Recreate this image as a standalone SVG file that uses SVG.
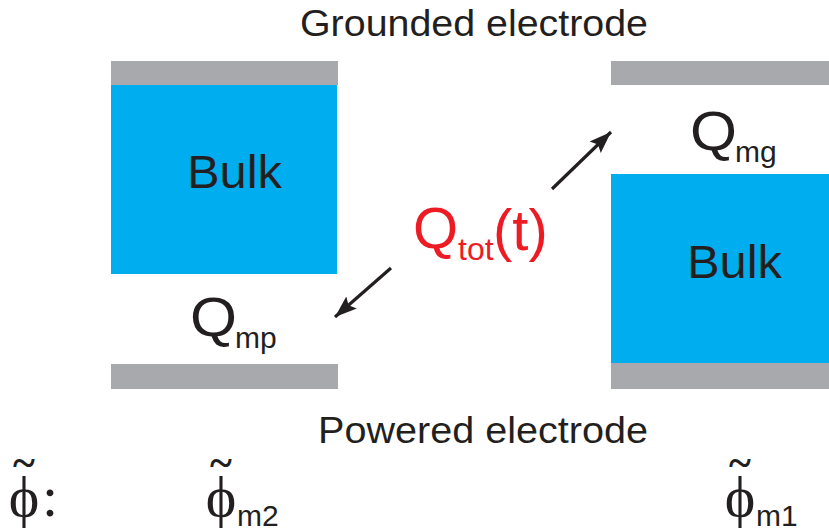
<svg xmlns="http://www.w3.org/2000/svg" width="829" height="529" viewBox="0 0 829 529">
<style>
.t{font-family:"Liberation Sans",Arial,sans-serif;fill:#231f20}
.red{fill:#ed1c24}
.grey{fill:#a7a9ac}
.bulk{fill:#00aeef}
.arr{stroke:#231f20;stroke-width:3.2;fill:none}
.tl{font-family:"Liberation Serif","Times New Roman",serif;fill:#231f20;font-size:42px;font-weight:bold;text-anchor:middle}
.ph{font-family:"Liberation Serif","DejaVu Serif",serif;fill:#231f20;font-size:58px;text-anchor:middle}
</style>
<defs>
<marker id="ah" markerUnits="userSpaceOnUse" markerWidth="24" markerHeight="18" refX="22" refY="9" orient="auto">
<path d="M0,1 L22,9 L0,17 L4,9 z" fill="#231f20"/>
</marker>
</defs>
<rect width="829" height="529" fill="#fff"/>
<text class="t" x="300" y="36" font-size="37" textLength="348" lengthAdjust="spacingAndGlyphs">Grounded electrode</text>
<text class="t" x="318" y="443" font-size="37" textLength="330" lengthAdjust="spacingAndGlyphs">Powered electrode</text>
<g id="left-cell">
<rect class="grey" x="111" y="61" width="227" height="24"/>
<rect class="bulk" x="111" y="85" width="226" height="189"/>
<rect class="grey" x="111" y="364" width="227" height="25"/>
<text class="t" x="187" y="188" font-size="46" textLength="95" lengthAdjust="spacingAndGlyphs">Bulk</text>
<text class="t" x="190" y="336" font-size="55" textLength="47" lengthAdjust="spacingAndGlyphs">Q</text>
<text class="t" x="235" y="348" font-size="30">mp</text>
</g>
<g id="right-cell">
<rect class="grey" x="611" y="61" width="218" height="24"/>
<rect class="bulk" x="611" y="174" width="218" height="189"/>
<rect class="grey" x="611" y="363" width="218" height="26"/>
<text class="t" x="687" y="278" font-size="46" textLength="95" lengthAdjust="spacingAndGlyphs">Bulk</text>
<text class="t" x="690" y="150" font-size="55" textLength="47" lengthAdjust="spacingAndGlyphs">Q</text>
<text class="t" x="735" y="162" font-size="30">mg</text>
</g>
<g id="qtot">
<text class="t red" x="413" y="248" font-size="58">Q</text>
<text class="t red" x="458" y="260" font-size="32">tot</text>
<text class="t red" x="493" y="250" font-size="58">(t)</text>
</g>
<g id="connectors">
<line class="arr" x1="552" y1="189" x2="611" y2="132" marker-end="url(#ah)"/>
<line class="arr" x1="391" y1="268" x2="335" y2="317" marker-end="url(#ah)"/>
</g>
<g id="phi-labels">
<text class="ph" x="24" y="516">ϕ</text>
<text class="tl" x="24" y="477">~</text>
<text class="ph" x="50" y="516" font-size="54">:</text>
<text class="ph" x="221" y="516">ϕ</text>
<text class="tl" x="221" y="477">~</text>
<text class="t" x="237" y="526" font-size="30">m2</text>
<text class="ph" x="740" y="516">ϕ</text>
<text class="tl" x="740" y="477">~</text>
<text class="t" x="756" y="526" font-size="30">m1</text>
</g>
</svg>
